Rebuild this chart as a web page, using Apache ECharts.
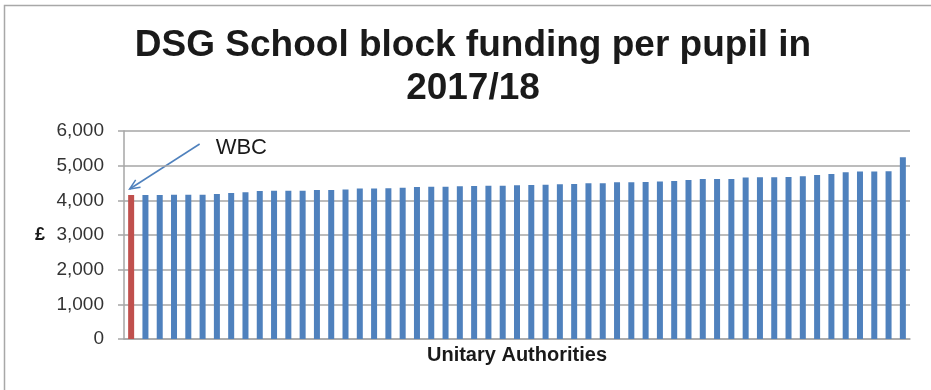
<!DOCTYPE html>
<html>
<head>
<meta charset="utf-8">
<script src="https://cdn.jsdelivr.net/npm/echarts@6/dist/echarts.min.js"></script>
<style>
  html, body { margin: 0; padding: 0; background: #ffffff; }
  #chart { width: 931px; height: 390px; }
</style>
</head>
<body>
<div id="chart"></div>
<script>
// DSG School block funding per pupil, 2017/18, one bar per unitary authority (sorted ascending)
const authorities = Array.from({ length: 55 }, (_, i) => 'UA ' + (i + 1));
const fundingPerPupil = [
  4154, 4154, 4154, 4164, 4164, 4164, 4183, 4212, 4231, 4270,
  4280, 4280, 4280, 4300, 4300, 4309, 4338, 4338, 4347, 4366,
  4386, 4395, 4395, 4405, 4415, 4424, 4424, 4434, 4444, 4453,
  4463, 4473, 4492, 4492, 4521, 4521, 4530, 4540, 4559, 4588,
  4617, 4617, 4617, 4656, 4665, 4665, 4675, 4694, 4733, 4762,
  4810, 4829, 4829, 4839, 5244
];
const highlightIndex = 0;          // WBC
const highlightLabel = 'WBC';
const yTicks = [0, 1000, 2000, 3000, 4000, 5000, 6000];

const FONT = "'Liberation Sans', Arial, sans-serif";
const BLUE = '#4f81bd';
const RED = '#c0504d';
const GRID = '#a6a6a6';

const chart = echarts.init(document.getElementById('chart'), null, { renderer: 'canvas' });

const option = {
  backgroundColor: '#ffffff',
  animation: false,
  title: {
    text: 'DSG School block funding per pupil in\n2017/18',
    left: 468,
    top: 19,
    textAlign: 'center',
    textStyle: {
      fontFamily: FONT,
      fontSize: 37,
      fontWeight: 'bold',
      color: '#1a1a1a',
      lineHeight: 43
    }
  },
  grid: { left: 124, right: 21, top: 131, bottom: 51 },
  xAxis: {
    type: 'category',
    data: authorities,
    name: 'Unitary Authorities',
    nameLocation: 'middle',
    nameGap: 6,
    nameTextStyle: { fontFamily: FONT, fontSize: 20, fontWeight: 'bold', color: '#1a1a1a' },
    axisLine: { lineStyle: { color: GRID, width: 1.5 } },
    axisTick: { show: false },
    axisLabel: { show: false }
  },
  yAxis: {
    type: 'value',
    min: yTicks[0],
    max: yTicks[yTicks.length - 1],
    interval: 1000,
    name: '£',
    nameLocation: 'middle',
    nameRotate: 0,
    nameGap: 79,
    nameTextStyle: { fontFamily: FONT, fontSize: 18, fontWeight: 'bold', color: '#1a1a1a', align: 'right' },
    axisLine: { show: true, lineStyle: { color: GRID, width: 1.5 } },
    axisTick: { show: true, inside: false, length: 6, lineStyle: { color: GRID, width: 1.5 } },
    axisLabel: {
      fontFamily: FONT,
      fontSize: 19,
      color: '#333333',
      margin: 20,
      formatter: v => v.toLocaleString('en-GB')
    },
    splitLine: { show: true, lineStyle: { color: GRID, width: 1.5 } }
  },
  series: [{
    type: 'bar',
    data: fundingPerPupil.map((v, i) => ({
      value: v,
      itemStyle: { color: i === highlightIndex ? RED : BLUE }
    })),
    barWidth: '42%'
  }],
  graphic: [{
    // outer frame of the chart area
    type: 'rect',
    silent: true,
    shape: { x: 4.5, y: 5.5, width: 2000, height: 2000 },
    style: { fill: 'none', stroke: '#a8a8a8', lineWidth: 1.5 }
  }]
};

chart.setOption(option);

// Callout arrow pointing at the highlighted bar, positioned from the bar's own pixel location
const barTop = chart.convertToPixel({ seriesIndex: 0 }, [highlightIndex, fundingPerPupil[highlightIndex]]);
const tip = [barTop[0] - 1.5, barTop[1] - 6];
const tail = [tip[0] + 70, tip[1] - 45];
const ang = Math.atan2(tail[1] - tip[1], tail[0] - tip[0]);
const headLen = 11, spread = 0.42;
const arm1 = [tip[0] + headLen * Math.cos(ang + spread), tip[1] + headLen * Math.sin(ang + spread)];
const arm2 = [tip[0] + headLen * Math.cos(ang - spread), tip[1] + headLen * Math.sin(ang - spread)];

chart.setOption({
  graphic: [
    option.graphic[0],
    {
      type: 'line', silent: true,
      shape: { x1: tail[0], y1: tail[1], x2: tip[0], y2: tip[1] },
      style: { stroke: BLUE, lineWidth: 1.5 }
    },
    {
      type: 'polyline', silent: true,
      shape: { points: [arm1, tip, arm2] },
      style: { stroke: BLUE, lineWidth: 1.5, fill: 'none' }
    },
    {
      type: 'text', silent: true,
      x: tail[0] + 16, y: tail[1] + 4,
      style: {
        text: highlightLabel,
        fontFamily: FONT,
        fontSize: 22,
        fill: '#1a1a1a',
        textVerticalAlign: 'middle'
      }
    }
  ]
});
</script>
</body>
</html>
